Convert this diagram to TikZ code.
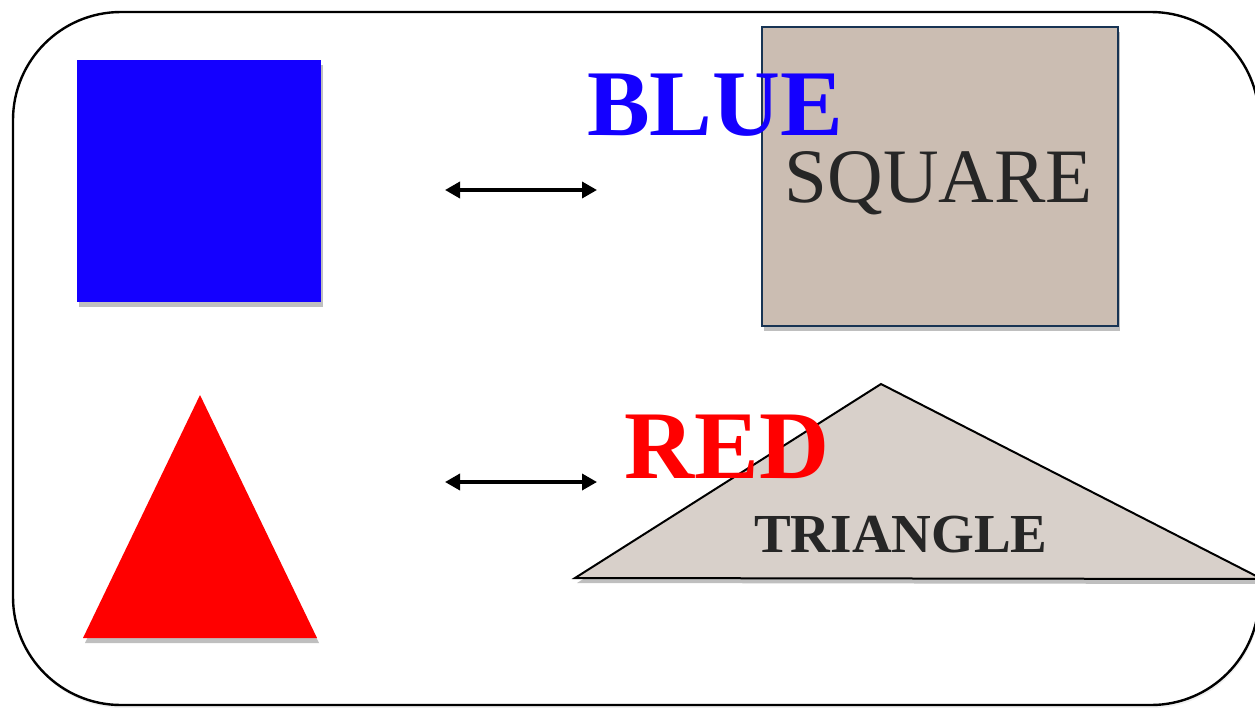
\documentclass[tikz,border=0pt]{standalone}
\usepackage{fontspec}
\setmainfont{Liberation Serif}
\usetikzlibrary{arrows.meta,shadows}
\definecolor{shapeblue}{RGB}{20,0,255}
\definecolor{shapered}{RGB}{255,0,0}
\definecolor{sqfill}{RGB}{203,189,178}
\definecolor{sqborder}{RGB}{24,52,84}
\definecolor{trifill}{RGB}{216,208,202}
\definecolor{darktext}{RGB}{38,38,38}
\tikzset{
  softshadow/.style={drop shadow={shadow xshift=2pt,shadow yshift=-5pt,opacity=0.45,fill=black!55}},
  frame/.style={draw=black,line width=2.4pt,rounded corners=108pt,drop shadow={shadow xshift=1pt,shadow yshift=-3pt,opacity=0.12}},
  dblarrow/.style={line width=3.5pt,{Triangle[length=15pt,width=16pt]}-{Triangle[length=15pt,width=16pt]}},
  label/.style={inner sep=0pt,anchor=base},
}
\begin{document}
\begin{tikzpicture}[x=1pt,y=-1pt]
\useasboundingbox (0,0) rectangle (1255,707);
% outer frame
\draw[frame,fill=white] (13,12) rectangle (1259,705);
% left shapes
\node[fill=shapeblue,minimum width=244pt,minimum height=242pt,inner sep=0pt,softshadow] (bluesq) at (199,181) {};
\coordinate (rtA) at (200,395);
\coordinate (rtB) at (83,638);
\coordinate (rtC) at (317,638);
\fill[shapered,softshadow] (rtA) -- (rtC) -- (rtB) -- cycle;
% arrows
\coordinate (a1l) at (445,190);
\coordinate (a1r) at (597,190);
\coordinate (a2l) at (445,482);
\coordinate (a2r) at (597,482);
\draw[dblarrow] (a1l) -- (a1r);
\draw[dblarrow] (a2l) -- (a2r);
% gray square
\node[fill=sqfill,draw=sqborder,line width=2pt,minimum width=356pt,minimum height=299pt,inner sep=0pt,softshadow] (graysq) at (939.5,176.5) {};
\node[label,text=shapeblue,font=\bfseries\fontsize{94}{94}\selectfont] (blue) at (715,135) {BLUE};
\node[label,text=darktext,font=\fontsize{77}{77}\selectfont] (square) at (939,202) {SQUARE};
% gray triangle
\coordinate (gtA) at (881,384);
\coordinate (gtB) at (575,578);
\coordinate (gtC) at (1262,579);
\filldraw[fill=trifill,draw=black,line width=2pt,line join=miter,softshadow] (gtA) -- (gtC) -- (gtB) -- cycle;
\node[label,text=darktext,font=\bfseries\fontsize{55}{55}\selectfont] (triangle) at (901,552) {TRIANGLE};
\node[label,text=shapered,font=\bfseries\fontsize{97}{97}\selectfont] (red) at (727,478) {RED};
\end{tikzpicture}
\end{document}
